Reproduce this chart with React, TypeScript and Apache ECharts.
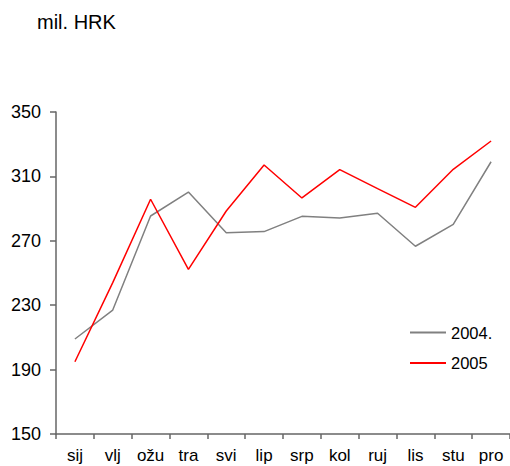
import React, { useEffect, useRef } from "react";
import * as echarts from "echarts";

const categories = ["sij", "vlj", "ožu", "tra", "svi", "lip", "srp", "kol", "ruj", "lis", "stu", "pro"];
const series2004 = [209, 227, 285.4, 300.3, 275, 275.7, 285.2, 284.2, 287.1, 266.6, 280.2, 319.1];
const series2005 = [194.9, 244, 295.8, 252.3, 288.5, 317.1, 296.6, 314.2, 302.4, 290.8, 314.4, 332];
const yTicks = { min: 150, max: 350, interval: 40 };
const unitLabel = "mil. HRK";

export default function App() {
  const ref = useRef<HTMLDivElement>(null);
  useEffect(() => {
    if (!ref.current) return;
    const chart = echarts.init(ref.current, undefined, { renderer: "svg" });
    const font = "'Liberation Sans', Arial, sans-serif";
    chart.setOption({
      animation: false,
      backgroundColor: "#ffffff",
      textStyle: { fontFamily: font },
      graphic: [
        {
          type: "text",
          left: 37,
          top: 12,
          style: { text: unitLabel, fontSize: 20, fontFamily: font, fill: "#000" },
        },
      ],
      grid: { left: 56, right: 0, top: 112, bottom: 32, containLabel: false },
      legend: {
        orient: "vertical",
        left: 410,
        top: 324,
        padding: 0,
        icon: "rect",
        itemWidth: 36,
        itemHeight: 2,
        itemGap: 13.5,
        textStyle: { fontSize: 16.5, color: "#000", fontFamily: font },
        data: ["2004.", "2005"],
      },
      xAxis: {
        type: "category",
        data: categories,
        boundaryGap: true,
        axisLine: { lineStyle: { color: "#666", width: 1.5 } },
        axisTick: { show: true, length: 5, lineStyle: { color: "#666", width: 1.5 } },
        axisLabel: { fontSize: 17, color: "#000", margin: 13, fontFamily: font },
        splitLine: { show: false },
      },
      yAxis: {
        type: "value",
        min: yTicks.min,
        max: yTicks.max,
        interval: yTicks.interval,
        axisLine: { show: true, lineStyle: { color: "#666", width: 1.5 } },
        axisTick: { show: true, length: 6, lineStyle: { color: "#666", width: 1.5 } },
        axisLabel: { fontSize: 18, color: "#000", margin: 15, fontFamily: font },
        splitLine: { show: false },
      },
      series: [
        {
          name: "2004.",
          type: "line",
          data: series2004,
          symbol: "none",
          lineStyle: { color: "#808080", width: 1.5 },
          itemStyle: { color: "#808080" },
        },
        {
          name: "2005",
          type: "line",
          data: series2005,
          symbol: "none",
          lineStyle: { color: "#ff0000", width: 1.5 },
          itemStyle: { color: "#ff0000" },
        },
      ],
    });
    return () => chart.dispose();
  }, []);
  return (
    <div
      ref={ref}
      style={{ position: "fixed", left: 0, top: 0, width: 510, height: 466 }}
    />
  );
}
